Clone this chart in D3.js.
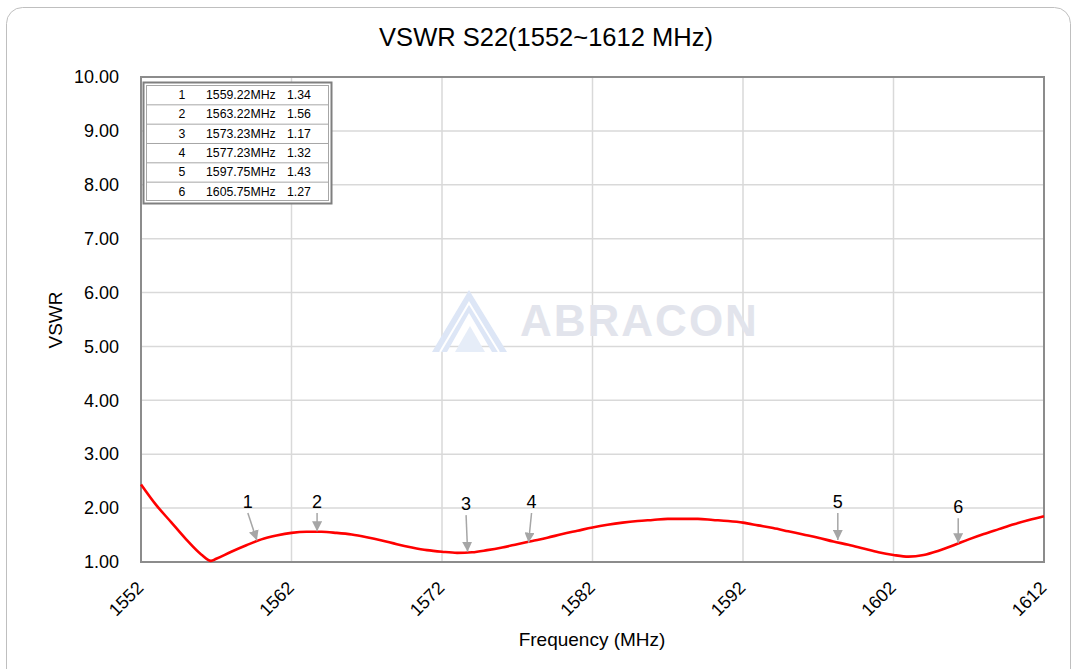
<!DOCTYPE html>
<html>
<head>
<meta charset="utf-8">
<script src="https://cdn.jsdelivr.net/npm/d3@7"></script>
<style>
	body { margin: 0; background: #fff; }
	svg { display: block; font-family: "Liberation Sans", Arial, sans-serif; }
</style>
</head>
<body>
<div id="chart"></div>
<script>

// VSWR curve
var freqs = [1552, 1553, 1554, 1555, 1556, 1556.65, 1557, 1558, 1559, 1560, 1561, 1562, 1563, 1564, 1565, 1566, 1567, 1568, 1569, 1570,
	1571, 1572, 1573, 1574, 1575, 1576, 1577, 1578, 1579, 1580, 1581, 1582, 1583, 1584, 1585, 1586, 1587, 1588, 1589, 1590,
	1591, 1592, 1593, 1594, 1595, 1596, 1597, 1598, 1599, 1600, 1601, 1602, 1603, 1604, 1605, 1606, 1607, 1608, 1609, 1610, 1611, 1612]
var vswr = [2.44, 2.06, 1.74, 1.42, 1.14, 1.02, 1.06, 1.19, 1.31, 1.42, 1.49, 1.54, 1.56, 1.56, 1.54, 1.51, 1.46, 1.40, 1.33, 1.27,
	1.22, 1.19, 1.17, 1.18, 1.22, 1.27, 1.33, 1.39, 1.45, 1.52, 1.58, 1.64, 1.69, 1.73, 1.76, 1.78, 1.80, 1.80, 1.80, 1.78,
	1.76, 1.73, 1.68, 1.63, 1.57, 1.51, 1.45, 1.38, 1.32, 1.25, 1.18, 1.13, 1.10, 1.13, 1.21, 1.31, 1.42, 1.52, 1.61, 1.70, 1.78, 1.85]

var xTicks = [1552, 1562, 1572, 1582, 1592, 1602, 1612]
var yTicks = [1, 2, 3, 4, 5, 6, 7, 8, 9, 10]

// marker table
var markerNo = ["1", "2", "3", "4", "5", "6"]
var markerFreq = ["1559.22MHz", "1563.22MHz", "1573.23MHz", "1577.23MHz", "1597.75MHz", "1605.75MHz"]
var markerVal = ["1.34", "1.56", "1.17", "1.32", "1.43", "1.27"]

// arrow annotations on the curve (tip / tail in data units)
var annoTipF = [1559.7, 1563.7, 1573.7, 1577.75, 1598.3, 1606.3]
var annoTipV = [1.40, 1.57, 1.19, 1.36, 1.41, 1.35]
var annoTailF = [1559.1, 1563.7, 1573.6, 1577.95, 1598.3, 1606.3]
var annoTailV = [1.91, 1.91, 1.87, 1.91, 1.91, 1.81]

var W = 1073, H = 669
var margin = {left: 141, right: 29, top: 77, bottom: 107}

var svg = d3.select("#chart").append("svg")
	.attr("width", W)
	.attr("height", H)

// outer frame
svg.append("rect")
	.attr("x", 6.5).attr("y", 7.5)
	.attr("width", 1064).attr("height", 720)
	.attr("rx", 16)
	.attr("fill", "#fff")
	.attr("stroke", "#bfbfbf")
	.attr("stroke-width", 1)

var xScale = d3.scaleLinear().domain([1552, 1612]).range([margin.left, W - margin.right])
var yScale = d3.scaleLinear().domain([1, 10]).range([H - margin.bottom, margin.top])

// title
svg.append("text")
	.attr("x", 546).attr("y", 46)
	.attr("text-anchor", "middle")
	.attr("font-size", 25.5)
	.attr("fill", "#000")
	.text("VSWR S22(1552~1612 MHz)")

// grid
svg.append("g").selectAll("line")
	.data(yTicks)
	.enter().append("line")
	.attr("x1", xScale(1552)).attr("x2", xScale(1612))
	.attr("y1", d => yScale(d)).attr("y2", d => yScale(d))
	.attr("stroke", "#d9d9d9").attr("stroke-width", 1.5)

svg.append("g").selectAll("line")
	.data(xTicks)
	.enter().append("line")
	.attr("x1", d => xScale(d)).attr("x2", d => xScale(d))
	.attr("y1", yScale(10)).attr("y2", yScale(1))
	.attr("stroke", "#d9d9d9").attr("stroke-width", 1.5)

// watermark
var wm = svg.append("g")
wm.append("path")
	.attr("d", "M432,352 L469,290 L507,352 L492,352 L469,313 L447,352 Z")
	.attr("fill", "#dde6f6")
wm.append("path")
	.attr("d", "M440,352 L469,303 L499,352")
	.attr("fill", "none").attr("stroke", "#fff").attr("stroke-width", 2)
wm.append("path")
	.attr("d", "M455,352 L470,326 L485,352 Z")
	.attr("fill", "#e6edf8")
wm.append("text")
	.attr("x", 520).attr("y", 336)
	.attr("font-size", 44)
	.attr("font-weight", "bold")
	.attr("letter-spacing", 2)
	.attr("fill", "#e2e4ec")
	.text("ABRACON")

// plot border
svg.append("rect")
	.attr("x", xScale(1552)).attr("y", yScale(10))
	.attr("width", xScale(1612) - xScale(1552))
	.attr("height", yScale(1) - yScale(10))
	.attr("fill", "none")
	.attr("stroke", "#8c8c8c")
	.attr("stroke-width", 2)

// axes
var yAxis = svg.append("g")
	.attr("transform", "translate(" + xScale(1552) + ",0)")
	.call(d3.axisLeft(yScale).tickValues(yTicks).tickFormat(d3.format(".2f")).tickSize(0).tickPadding(22))
yAxis.select(".domain").remove()
yAxis.selectAll("text").attr("font-size", 18).attr("fill", "#000").attr("font-family", "Liberation Sans, Arial, sans-serif")

var xAxis = svg.append("g")
	.attr("transform", "translate(0," + yScale(1) + ")")
	.call(d3.axisBottom(xScale).tickValues(xTicks).tickFormat(d3.format("d")).tickSize(0))
xAxis.select(".domain").remove()
xAxis.selectAll("text")
	.attr("font-size", 18).attr("fill", "#000").attr("font-family", "Liberation Sans, Arial, sans-serif")
	.attr("text-anchor", "end")
	.attr("dy", null).attr("y", 0)
	.attr("transform", "translate(3,27) rotate(-45)")

// axis titles
svg.append("text")
	.attr("transform", "translate(62,320) rotate(-90)")
	.attr("text-anchor", "middle")
	.attr("font-size", 19)
	.text("VSWR")

svg.append("text")
	.attr("x", 592).attr("y", 646)
	.attr("text-anchor", "middle")
	.attr("font-size", 19)
	.text("Frequency (MHz)")

// curve
var points = freqs.map((f, i) => ({f: f, v: vswr[i]}))
var line = d3.line()
	.x(d => xScale(d.f))
	.y(d => yScale(d.v))
	.curve(d3.curveMonotoneX)

svg.append("path")
	.datum(points)
	.attr("d", line)
	.attr("fill", "none")
	.attr("stroke", "#ff0000")
	.attr("stroke-width", 2.6)
	.attr("stroke-linejoin", "round")

// arrows
var defs = svg.append("defs")
defs.append("marker")
	.attr("id", "arrowhead")
	.attr("viewBox", "0 0 10 10")
	.attr("refX", 10).attr("refY", 5)
	.attr("markerWidth", 10).attr("markerHeight", 10)
	.attr("markerUnits", "userSpaceOnUse")
	.attr("orient", "auto")
	.append("path")
	.attr("d", "M0,0 L10,5 L0,10 Z")
	.attr("fill", "#a6a6a6")

var anno = svg.append("g")
markerNo.forEach(function(lbl, i){
	var x1 = xScale(annoTailF[i]), y1 = yScale(annoTailV[i])
	var x2 = xScale(annoTipF[i]), y2 = yScale(annoTipV[i])
	anno.append("line")
		.attr("x1", x1).attr("y1", y1)
		.attr("x2", x2).attr("y2", y2)
		.attr("stroke", "#a6a6a6")
		.attr("stroke-width", 1.5)
		.attr("marker-end", "url(#arrowhead)")
	anno.append("text")
		.attr("x", x1).attr("y", y1 - 5)
		.attr("text-anchor", "middle")
		.attr("font-size", 18)
		.text(lbl)
})

// marker table
var tbl = svg.append("g")
var rowH = 19.33, tblTop = 85
tbl.append("rect")
	.attr("x", 143.5).attr("y", 82.5).attr("width", 188).attr("height", 121)
	.attr("fill", "#fff").attr("stroke", "#7f7f7f").attr("stroke-width", 2)
tbl.append("rect")
	.attr("x", 146.5).attr("y", 85.5).attr("width", 182).attr("height", 115)
	.attr("fill", "none").attr("stroke", "#a6a6a6").attr("stroke-width", 1)
markerNo.forEach(function(n, i){
	var ty = tblTop + rowH * i
	if(i > 0){
		tbl.append("line")
			.attr("x1", 147).attr("x2", 328)
			.attr("y1", ty + 0.5).attr("y2", ty + 0.5)
			.attr("stroke", "#a6a6a6").attr("stroke-width", 1)
	}
	tbl.append("text").attr("x", 182).attr("y", ty + 14).attr("text-anchor", "middle").attr("font-size", 12.3).text(n)
	tbl.append("text").attr("x", 206).attr("y", ty + 14).attr("font-size", 12.3).text(markerFreq[i])
	tbl.append("text").attr("x", 287).attr("y", ty + 14).attr("font-size", 12.3).text(markerVal[i])
})

</script>
</body>
</html>
